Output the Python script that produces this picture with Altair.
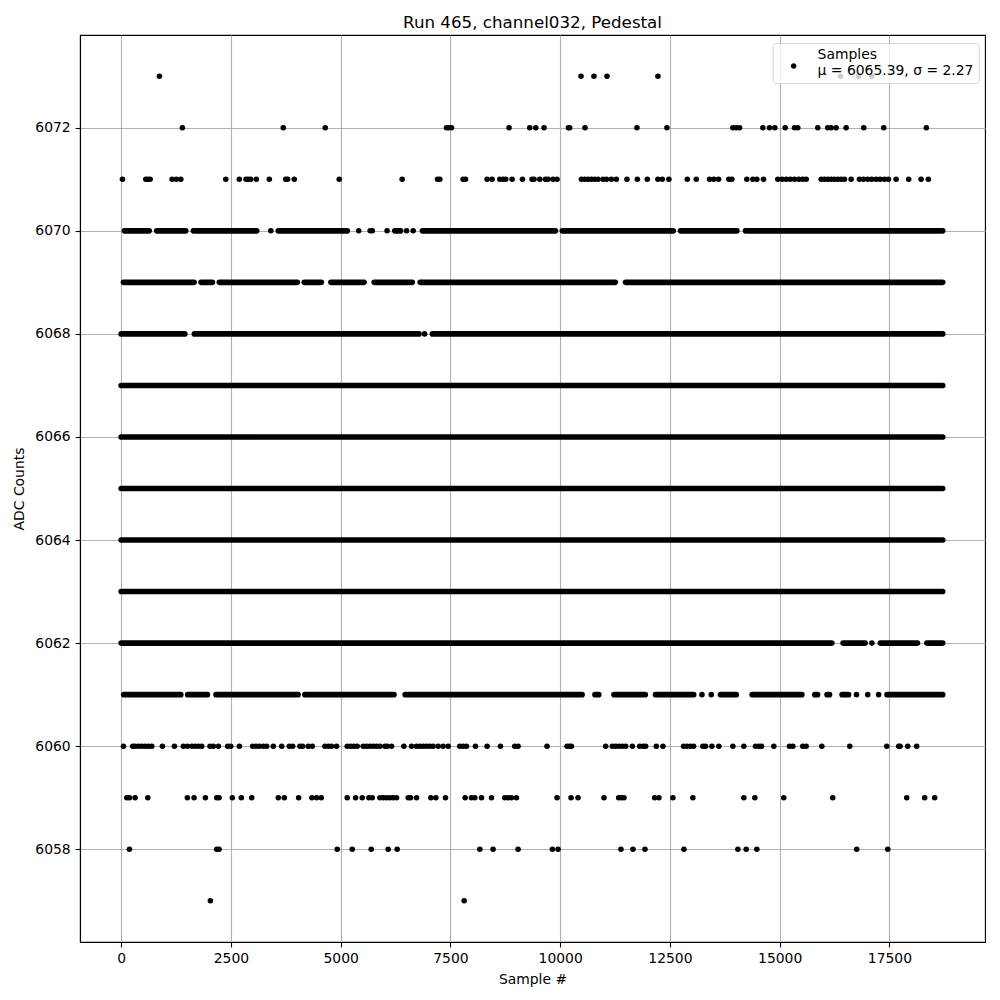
import altair as alt
import pandas as pd

TITLE = "Run 465, channel032, Pedestal"
X_TITLE = "Sample #"
Y_TITLE = "ADC Counts"
LEGEND_NAME = "Samples"
LEGEND_STATS = "μ = 6065.39, σ = 2.27"
X_TICKS = [0, 2500, 5000, 7500, 10000, 12500, 15000, 17500]
Y_TICKS = [6058, 6060, 6062, 6064, 6066, 6068, 6070, 6072]
X_DOMAIN = [-937, 19677]
Y_DOMAIN = [6056.2, 6073.8]

# isolated samples (sample index) per ADC value
pts_6073 = [872, 10475, 10770, 11067, 12227, 16384, 16794, 17097]
pts_6072 = [1395, 3693, 4649, 7411, 7464, 7525, 8837, 9307, 9444, 9633, 10188, 10217,
            10566, 11749, 12432, 13934, 14011, 14086, 14617, 14769, 14890, 15126, 15338,
            15413, 15868, 16095, 16173, 16287, 16514, 16915, 17370, 18341]
pts_6071 = [30, 562, 607, 660, 1161, 1258, 1359, 2383, 2692, 2845, 2897, 2951, 3079, 3375,
            3748, 3793, 3944, 4968, 6401, 7207, 7259, 7790, 7844, 8336, 8449, 8625, 8700,
            8761, 8905, 9141, 9360, 9405, 9535, 9665, 9724, 9838, 9929, 10484, 10560, 10636,
            10712, 10788, 10863, 10976, 11053, 11166, 11280, 11522, 11758, 11985, 12227,
            12327, 12477, 12896, 13100, 13404, 13501, 13608, 13842, 13911, 14252, 14389,
            14480, 14632, 14958, 15058, 15149, 15240, 15338, 15437, 15527, 15604, 15945,
            16021, 16097, 16173, 16249, 16325, 16401, 16476, 16628, 16817, 16908, 17006,
            17097, 17197, 17288, 17386, 17477, 17652, 17939, 18221, 18387]
pts_6070 = [3409, 5412, 5673, 5721, 6058, 6501, 6652]
pts_6068 = [6911]
pts_6062 = [17101]
pts_6061 = [13230, 13442, 16750, 17006, 17254]
pts_6060 = [53, 265, 319, 395, 470, 546, 622, 698, 940, 1214, 1418, 1509, 1608, 1684, 1760,
            1835, 2025, 2101, 2215, 2427, 2496, 2693, 2996, 3072, 3148, 3239, 3315, 3466,
            3657, 3830, 3907, 4073, 4134, 4263, 4354, 4642, 4718, 4794, 4908, 5150, 5226,
            5302, 5378, 5514, 5590, 5666, 5742, 5818, 5894, 6008, 6061, 6159, 6440, 6615,
            6729, 6804, 6880, 6956, 7032, 7107, 7221, 7335, 7449, 7714, 7790, 7866, 8071,
            8336, 8640, 8966, 9042, 9701, 10157, 10217, 10256, 11037, 11189, 11265, 11341,
            11416, 11492, 11644, 11810, 11886, 11947, 12190, 12341, 12812, 12888, 12964,
            13039, 13251, 13312, 13456, 13615, 13934, 14184, 14450, 14526, 14587, 14867,
            15224, 15300, 15527, 15604, 15960, 16596, 17439, 17711, 17742, 17916, 18121]
pts_6059 = [129, 190, 319, 607, 1509, 1661, 1919, 2177, 2230, 2533, 2738, 2973, 3580, 3717,
            4043, 4346, 4453, 4559, 5150, 5340, 5492, 5643, 5719, 5894, 5970, 6046, 6121,
            6197, 6273, 6539, 6592, 6729, 7054, 7168, 7388, 7836, 7980, 8056, 8208, 8436,
            8738, 8814, 8890, 9004, 9929, 10248, 10407, 10998, 11333, 11394, 11454, 12152,
            12250, 12568, 13023, 14184, 14434, 15094, 16209, 17894, 18303, 18531]
pts_6058 = [190, 2177, 2230, 4923, 5264, 5696, 6083, 6288, 8170, 8472, 9042, 9823, 9952,
            11385, 11659, 11932, 12819, 14048, 14238, 14480, 16755, 17462]
pts_6057 = [2033, 7813]

# continuous runs of samples (first, last sample index) per ADC value
runs_6070 = [(75, 639), (810, 1472), (1645, 3088), (3580, 5152), (6233, 6365),
             (6863, 9892), (10049, 12577), (12741, 14027), (14220, 18714)]
runs_6069 = [(52, 1663), (1818, 2080), (2237, 4014), (4171, 4560), (4777, 5532),
             (5764, 6631), (6811, 11257), (11489, 18714)]
runs_6068 = [(0, 1450), (1668, 6784), (7091, 18714)]
runs_6067 = [(0, 18714)]
runs_6066 = [(0, 18714)]
runs_6065 = [(0, 18714)]
runs_6064 = [(0, 18714)]
runs_6063 = [(0, 18714)]
runs_6062 = [(0, 16189), (16444, 16947), (17292, 18139), (18355, 18714)]
runs_6061 = [(59, 1359), (1516, 1966), (2160, 4030), (4185, 6215), (6469, 10500),
             (10793, 10880), (11226, 11940), (12172, 13041), (13651, 14011),
             (14373, 15506), (15800, 15863), (16079, 16136), (16421, 16569),
             (17445, 18714)]

points = {6073: pts_6073, 6072: pts_6072, 6071: pts_6071, 6070: pts_6070,
          6068: pts_6068, 6062: pts_6062, 6061: pts_6061, 6060: pts_6060,
          6059: pts_6059, 6058: pts_6058, 6057: pts_6057}
runs = {6070: runs_6070, 6069: runs_6069, 6068: runs_6068, 6067: runs_6067,
        6066: runs_6066, 6065: runs_6065, 6064: runs_6064, 6063: runs_6063,
        6062: runs_6062, 6061: runs_6061}

df_pts = pd.DataFrame([{"sample": s, "adc": adc, "series": LEGEND_NAME}
                       for adc, lst in points.items() for s in lst])
df_runs = pd.DataFrame([{"start": a, "end": b, "adc": adc}
                        for adc, lst in runs.items() for a, b in lst])

FONT = "DejaVu Sans"
axis_common = dict(format="d", grid=True, gridColor="#b0b0b0", gridWidth=1.1,
                   tickColor="black", tickSize=4.9, tickWidth=1.1,
                   domainColor="black", domainWidth=1.1,
                   labelFont=FONT, labelFontSize=13.9, labelColor="black", labelPadding=4.9,
                   titleFont=FONT, titleFontSize=13.9, titleFontWeight="normal",
                   titleColor="black")
x_axis = alt.Axis(values=X_TICKS, title=X_TITLE, titlePadding=7, **axis_common)
y_axis = alt.Axis(values=Y_TICKS, title=Y_TITLE, titlePadding=8, **axis_common)
x_scale = alt.Scale(domain=X_DOMAIN, nice=False, zero=False)
y_scale = alt.Scale(domain=Y_DOMAIN, nice=False, zero=False)

nb = "\u00a0" * 6
label_expr = "['" + LEGEND_NAME + "', '" + LEGEND_STATS + nb + "']"
# unit circle, drawn lower so it sits beside the second half of the two-line label
LEGEND_SYMBOL = "M -1 3.95 A 1 1 0 1 0 1 3.95 A 1 1 0 1 0 -1 3.95 Z"

run_layer = alt.Chart(df_runs).mark_rule(strokeCap="round", strokeWidth=5.6, color="black").encode(
    x=alt.X("start:Q", scale=x_scale, axis=x_axis),
    x2="end:Q",
    y=alt.Y("adc:Q", scale=y_scale, axis=y_axis),
)

pt_layer = alt.Chart(df_pts).mark_circle(size=31, opacity=1, strokeWidth=0).encode(
    x=alt.X("sample:Q", scale=x_scale, axis=x_axis),
    y=alt.Y("adc:Q", scale=y_scale, axis=y_axis),
    color=alt.Color("series:N", scale=alt.Scale(domain=[LEGEND_NAME], range=["black"]),
                    legend=alt.Legend(title=None, orient="none", legendX=692.7, legendY=8,
                                      labelExpr=label_expr,
                                      fillColor="rgba(255,255,255,0.8)",
                                      strokeColor="rgba(204,204,204,0.8)",
                                      cornerRadius=3, padding=5, symbolOffset=9,
                                      labelOffset=17, symbolType=LEGEND_SYMBOL,
                                      symbolSize=31,
                                      symbolFillColor="black", symbolStrokeWidth=0,
                                      labelFont=FONT, labelFontSize=13.9,
                                      labelColor="black", labelLimit=400, zindex=1)),
)

chart = alt.layer(run_layer, pt_layer).properties(
    width=905, height=907,
    title=alt.TitleParams(TITLE, font=FONT, fontSize=16.7, fontWeight="normal",
                          color="black", offset=3, anchor="middle"),
    autosize=alt.AutoSizeParams(type="none"),
    padding={"left": 72, "top": 27, "right": 7, "bottom": 50},
).configure_view(stroke="black", strokeWidth=1.1)

chart.save("out.html", embed_options={"renderer": "svg", "actions": False})
